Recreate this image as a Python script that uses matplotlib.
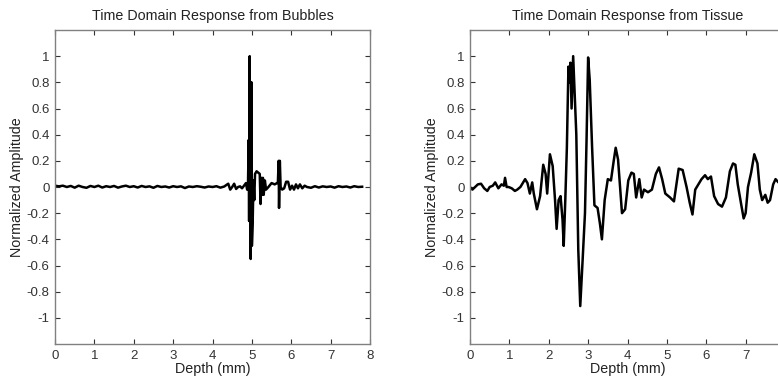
import numpy as np
import matplotlib.pyplot as plt
from matplotlib.ticker import FormatStrFormatter

plt.rcParams['font.family'] = ['Liberation Sans', 'DejaVu Sans']
plt.rcParams['axes.unicode_minus'] = False

# bubble echo: depth (mm), normalized amplitude
bub_x = [0.0, 0.1, 0.2, 0.3, 0.4, 0.5, 0.6, 0.7, 0.8, 0.9, 1.0, 1.1, 1.2, 1.3, 1.4, 1.5,
         1.6, 1.7, 1.8, 1.9, 2.0, 2.1, 2.2, 2.3, 2.4, 2.5, 2.6, 2.7, 2.8, 2.9, 3.0, 3.1,
         3.2, 3.3, 3.4, 3.5, 3.6, 3.7, 3.8, 3.9, 4.0, 4.1, 4.2, 4.3, 4.35, 4.4, 4.45, 4.5,
         4.55, 4.6, 4.65, 4.7, 4.75, 4.8, 4.85, 4.88, 4.9, 4.92, 4.93, 4.945, 4.95, 4.965,
         4.97, 4.99, 5.0, 5.02, 5.04, 5.06, 5.08, 5.12, 5.16, 5.2, 5.22, 5.24, 5.26, 5.28,
         5.3, 5.33, 5.36, 5.42, 5.5, 5.58, 5.64, 5.66, 5.68, 5.69, 5.71, 5.73, 5.77, 5.82,
         5.87, 5.92, 5.97, 6.02, 6.07, 6.12, 6.17, 6.22, 6.28, 6.34, 6.4, 6.5, 6.6, 6.7,
         6.8, 6.9, 7.0, 7.1, 7.2, 7.3, 7.4, 7.5, 7.6, 7.7, 7.8]
bub_y = [0.01, 0.005, 0.01, 0.0, 0.008, -0.005, 0.01, 0.0, -0.006, 0.008, 0.0, 0.01,
         -0.004, 0.006, 0.0, 0.008, -0.005, 0.004, 0.01, 0.0, 0.006, -0.004, 0.008, 0.0,
         0.005, -0.006, 0.008, 0.0, 0.004, -0.004, 0.006, 0.0, 0.005, -0.008, 0.004, 0.0,
         0.006, 0.002, -0.004, 0.004, 0.0, 0.006, -0.005, 0.004, 0.015, 0.025, -0.02, 0.0,
         0.025, -0.015, 0.0, 0.005, -0.01, 0.01, 0.03, -0.02, 0.0, 0.36, -0.26, 1.0, -0.26,
         0.8, -0.55, 0.8, -0.45, -0.28, 0.05, -0.1, 0.1, 0.12, 0.11, 0.1, -0.13, 0.07,
         -0.06, 0.07, -0.06, 0.05, -0.02, 0.0, 0.03, 0.02, 0.03, 0.03, 0.2, -0.16, 0.2,
         0.0, -0.02, -0.01, 0.04, 0.04, -0.02, 0.01, -0.02, 0.02, -0.01, 0.02, -0.01,
         0.01, 0.0, -0.006, 0.006, -0.004, 0.005, 0.0, 0.004, -0.005, 0.006, 0.0, 0.004,
         -0.004, 0.006, 0.0, 0.002]

# tissue echo: depth (mm), normalized amplitude
tis_x = [0.0, 0.06, 0.13, 0.2, 0.28, 0.36, 0.44, 0.5, 0.58, 0.64, 0.72, 0.8, 0.86,
         0.89, 0.93, 0.98, 1.06, 1.14, 1.2, 1.28, 1.36, 1.4, 1.46, 1.52, 1.58, 1.62,
         1.7, 1.78, 1.86, 1.92, 1.96, 2.03, 2.1, 2.16, 2.2, 2.25, 2.3, 2.35, 2.38,
         2.42, 2.46, 2.5, 2.52, 2.55, 2.58, 2.62, 2.66, 2.7, 2.75, 2.8, 2.86, 2.92,
         2.96, 3.0, 3.04, 3.1, 3.16, 3.24, 3.3, 3.35, 3.42, 3.5, 3.58, 3.65, 3.7,
         3.76, 3.86, 3.94, 4.02, 4.1, 4.16, 4.22, 4.3, 4.36, 4.42, 4.52, 4.62, 4.72,
         4.8, 4.88, 4.96, 5.08, 5.18, 5.3, 5.4, 5.5, 5.58, 5.65, 5.72, 5.8, 5.88,
         5.97, 6.04, 6.12, 6.2, 6.3, 6.4, 6.5, 6.6, 6.68, 6.74, 6.8, 6.88, 6.95, 7.0,
         7.06, 7.14, 7.22, 7.3, 7.36, 7.42, 7.5, 7.56, 7.62, 7.7, 7.76, 7.82]
tis_y = [0.0, -0.02, 0.0, 0.02, 0.025, -0.01, -0.03, 0.0, 0.01, 0.035, -0.01, 0.02,
         0.01, 0.07, 0.0, 0.0, -0.01, -0.03, -0.02, 0.0, 0.04, 0.06, 0.03, -0.05,
         0.035, -0.05, -0.17, -0.07, 0.17, 0.1, -0.05, 0.25, 0.16, -0.1, -0.32, -0.1,
         -0.07, -0.25, -0.45, -0.1, 0.3, 0.92, 0.8, 0.95, 0.6, 1.0, 0.7, 0.4, -0.48,
         -0.91, -0.56, -0.2, 0.36, 0.99, 0.82, 0.31, -0.14, -0.16, -0.28, -0.4, -0.1,
         0.06, 0.05, 0.2, 0.3, 0.21, -0.2, -0.17, 0.05, 0.11, 0.1, -0.08, 0.06, -0.08,
         -0.02, -0.04, -0.02, 0.1, 0.15, 0.06, -0.05, -0.08, -0.11, 0.14, 0.13, 0.0,
         -0.12, -0.21, -0.02, 0.02, 0.06, 0.09, 0.06, 0.08, -0.07, -0.13, -0.15,
         -0.08, 0.12, 0.18, 0.17, 0.02, -0.12, -0.24, -0.2, 0.0, 0.11, 0.25, 0.18,
         -0.02, -0.1, -0.06, -0.12, -0.1, 0.02, 0.06, 0.04]

y_ticks = [-1, -0.8, -0.6, -0.4, -0.2, 0, 0.2, 0.4, 0.6, 0.8, 1]
x_ticks = [0, 1, 2, 3, 4, 5, 6, 7, 8]

fig = plt.figure(figsize=(7.78, 3.81), dpi=100)
ax1 = fig.add_axes([55 / 778, 37 / 381, 315 / 778, 314 / 381])
ax2 = fig.add_axes([470 / 778, 37 / 381, 315 / 778, 314 / 381])

for ax, x, y, title in [(ax1, bub_x, bub_y, 'Time Domain Response from Bubbles'),
                        (ax2, tis_x, tis_y, 'Time Domain Response from Tissue')]:
    ax.plot(x, y, color='black', lw=1.8)
    ax.set_xlim(0, 8)
    ax.set_ylim(-1.2, 1.2)
    ax.set_xticks(x_ticks)
    ax.set_yticks(y_ticks)
    ax.yaxis.set_major_formatter(FormatStrFormatter('%g'))
    ax.tick_params(direction='in', top=True, right=True, length=3.5,
                   labelsize=9.5, colors='#333333', width=0.8, pad=4)
    for s in ax.spines.values():
        s.set_color('#808080')
        s.set_linewidth(1.0)
    ax.set_title(title, fontsize=10.3, pad=7, color='#222222')
    ax.set_xlabel('Depth (mm)', fontsize=10.3, labelpad=0, color='#222222')
    ax.set_ylabel('Normalized Amplitude', fontsize=10.3, labelpad=2, color='#222222')

# right panel runs past the figure edge, its last label is not shown
ax2.set_xticklabels([str(t) for t in x_ticks[:-1]] + [''])

fig.savefig('out.png', dpi=100)
